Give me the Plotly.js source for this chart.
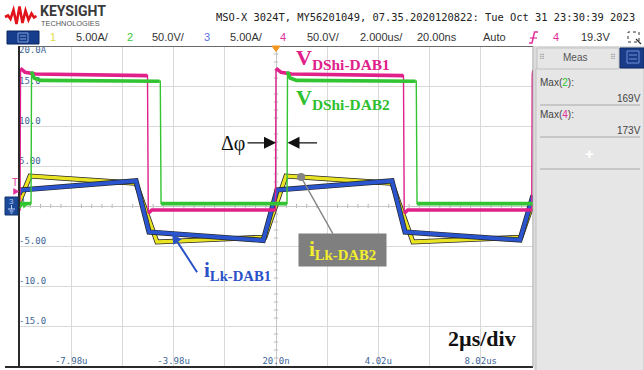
<!DOCTYPE html>
<html><head><meta charset="utf-8">
<script src="https://cdn.plot.ly/plotly-3.0.1.min.js"></script>
<style>html,body{margin:0;padding:0;background:#fff;overflow:hidden}#chart{width:644px;height:370px}</style>
</head><body><div id="chart"></div>
<script>
// ---------------- data (time in µs) ----------------
// CH4  V_DShi-DAB1 (V, 50 V/div)
const ch4Time = [-10.04, -10.0, -9.98, -9.8, -9.4, -5.02, -4.99, -4.85, -0.02, 0.0, 0.2, 0.6, 4.98, 5.01, 5.15, 9.99, 10.01, 10.04];
const ch4Volt = [-5, -5, 172, 167, 165, 163, -9, -5, -5, 172, 167, 165, 163, -9, -5, -5, 165, 170];
// CH2  V_DShi-DAB2 (V, 50 V/div)
const ch2Time = [-10.04, -9.57, -9.55, -9.45, -9.2, -4.55, -4.52, -4.49, 0.43, 0.45, 0.55, 0.8, 5.45, 5.48, 5.51, 10.04];
const ch2Volt = [3, 3, 168, 160, 157, 156, 156, 3, 3, 168, 160, 157, 156, 156, 3, 3];
// CH3  i_Lk-DAB1 (A, 5 A/div)
const ch3Time = [-10.04, -9.96, -5.47, -4.96, -0.5, 0.04, 4.53, 5.04, 9.53, 10.04];
const ch3Amp  = [1.5, 2.0, 3.15, -3.25, -4.3, 2.0, 3.15, -3.25, -4.25, 1.3];
// CH1  i_Lk-DAB2 (A, 5 A/div)
const ch1Time = [-10.04, -9.61, -5.47, -4.65, -0.43, 0.39, 4.53, 5.35, 9.57, 10.04];
const ch1Amp  = [0.4, 3.75, 2.85, -4.5, -3.9, 3.75, 2.85, -4.5, -3.9, 0.4];
// axis labels
const timeTickVals = [-8, -6, -4, -2, 0, 2, 4, 6, 8];
const timeTickText = ['-7.98u', '', '-3.98u', '', '20.0n', '', '4.02u', '', '8.02us'];
const ampTickVals = [20, 15, 10, 5, 0, -5, -10, -15];
const ampTickText = ['20.0A', '15.0', '10.0', '5.00', '0', '-5.00', '-10.0', '-15.0'];
// measurement panel
const measNames  = ['Max(<span style="color:#2ec82e">2</span>):', 'Max(<span style="color:#e0309a">4</span>):'];
const measValues = ['169V', '173V'];
// header
const headerLine = 'MSO-X 3024T, MY56201049, 07.35.2020120822: Tue Oct 31 23:30:39 2023';

// ---------------- helpers ----------------
const L = 19, R = 533, T = 46, B = 366;
const px = v => (v - L) / (R - L);
const py = v => (B - v) / (B - T);
function P(pts, close) {
  return pts.map((p, i) => (i ? 'L' : 'M') + px(p[0]).toFixed(5) + ',' + py(p[1]).toFixed(5)).join(' ') + (close ? ' Z' : '');
}
function rect(x0, y0, x1, y1, fill, lineColor, lw, dash) {
  return {type: 'rect', xref: 'paper', yref: 'paper', x0: px(x0), x1: px(x1), y0: py(y1), y1: py(y0),
    fillcolor: fill || 'rgba(0,0,0,0)', line: {color: lineColor || 'rgba(0,0,0,0)', width: lw || 0, dash: dash || 'solid'}, layer: 'above'};
}
function seg(x0, y0, x1, y1, color, w) {
  return {type: 'line', xref: 'paper', yref: 'paper', x0: px(x0), x1: px(x1), y0: py(y0), y1: py(y1), line: {color, width: w}, layer: 'above'};
}
function path(pts, close, fill, lineColor, w) {
  return {type: 'path', xref: 'paper', yref: 'paper', path: P(pts, close), fillcolor: fill || 'rgba(0,0,0,0)',
    line: {color: lineColor || 'rgba(0,0,0,0)', width: w || 0}, layer: 'above'};
}
function txt(x, y, text, size, color, opts) {
  return Object.assign({xref: 'paper', yref: 'paper', x: px(x), y: py(y), text, showarrow: false, xanchor: 'left', yanchor: 'middle',
    borderpad: 0, borderwidth: 0, font: {family: 'Liberation Sans, Arial, sans-serif', size, color}}, opts || {});
}
function plateaus(t, v, minDt) {
  const x = [], y = [];
  for (let i = 0; i < t.length - 1; i++) {
    if (t[i + 1] - t[i] >= minDt) {
      if (x.length && x[x.length - 1] === t[i]) { x.push(t[i + 1]); y.push(v[i + 1]); }
      else { if (x.length) { x.push(null); y.push(null); } x.push(t[i], t[i + 1]); y.push(v[i], v[i + 1]); }
    }
  }
  return {x, y};
}

// ---------------- traces ----------------
const pinkC = '#e0218a', greenC = '#33c433', yellowC = '#e9e324', blueC = '#2b55cf';
const p4 = plateaus(ch4Time, ch4Volt, 0.08), p2 = plateaus(ch2Time, ch2Volt, 0.08);
const base = {hoverinfo: 'skip', showlegend: false};
const xlabX = [], xlabT = [];
timeTickVals.forEach((v, i) => { if (timeTickText[i]) { xlabX.push(v); xlabT.push(timeTickText[i]); } });

const traces = [
  Object.assign({x: ampTickVals.map(() => -10.04), y: ampTickVals, mode: 'text', text: ampTickText,
    textposition: ampTickVals.map(v => v === 20 ? 'bottom right' : 'top right'), cliponaxis: false,
    textfont: {family: 'DejaVu Sans Mono, monospace', size: 9, color: '#3e6596'}}, base),
  Object.assign({x: xlabX, y: xlabX.map(() => -20), mode: 'text', text: xlabT, textposition: 'top center', cliponaxis: false,
    textfont: {family: 'DejaVu Sans Mono, monospace', size: 9, color: '#3e6596'}}, base),
  // CH4 pink
  Object.assign({x: ch4Time, y: ch4Volt, yaxis: 'y2', mode: 'lines', line: {color: pinkC, width: 1.4}}, base),
  Object.assign({x: p4.x, y: p4.y, yaxis: 'y2', mode: 'lines', line: {color: pinkC, width: 3.6}}, base),
  // CH2 green
  Object.assign({x: ch2Time, y: ch2Volt, yaxis: 'y2', mode: 'lines', line: {color: greenC, width: 1.4}}, base),
  Object.assign({x: p2.x, y: p2.y, yaxis: 'y2', mode: 'lines', line: {color: greenC, width: 3.6}}, base),
  // CH1 yellow
  Object.assign({x: ch1Time, y: ch1Amp, mode: 'lines', line: {color: '#262626', width: 5}}, base),
  Object.assign({x: ch1Time, y: ch1Amp, mode: 'lines', line: {color: yellowC, width: 3.4}}, base),
  // CH3 blue
  Object.assign({x: ch3Time, y: ch3Amp, mode: 'lines', line: {color: '#262626', width: 5.2}}, base),
  Object.assign({x: ch3Time, y: ch3Amp, mode: 'lines', line: {color: blueC, width: 3.8}}, base)
];

// ---------------- decorations ----------------
const shapes = [];
// minor ticks on the centre cross (5 per division)
for (let k = -25; k <= 25; k++) {
  if (k % 5) shapes.push({type: 'line', xref: 'x', yref: 'y', x0: k * 0.4, x1: k * 0.4, y0: -0.27, y1: 0.27, line: {color: '#b8b8b8', width: 1}, layer: 'below'});
}
for (let k = -20; k <= 20; k++) {
  if (k % 5) shapes.push({type: 'line', xref: 'x', yref: 'y', x0: -0.085, x1: 0.085, y0: k, y1: k, line: {color: '#b8b8b8', width: 1}, layer: 'below'});
}
shapes.push(
  // plot borders
  seg(19, 46.5, 533, 46.5, '#6a6a6a', 1.2),
  seg(19, 46, 19, 367, '#2a2a2a', 2),
  seg(5, 367, 533, 367, '#2a2a2a', 2),
  seg(533, 46, 533, 367, '#9a9a9a', 1),
  // right measurement panel
  rect(534, 46, 644, 370, '#dcdcdc'),
  rect(536, 68, 644, 372, '#e6e6e6', '#c2c2c2', 1),
  rect(537, 48, 619, 69, '#e6e6e6', '#c2c2c2', 1),
  rect(620, 48, 644, 68, '#1a3c88', '#0e2a66', 1),
  rect(627, 51, 639, 63, 'rgba(0,0,0,0)', '#6f8fd6', 1),
  seg(629, 55, 637, 55, '#6f8fd6', 1), seg(629, 59, 637, 59, '#6f8fd6', 1),
  seg(540, 105, 640, 105, '#a8a8a8', 1),
  seg(540, 137, 640, 137, '#a8a8a8', 1),
  seg(540, 169, 640, 169, '#a8a8a8', 1),
  // header widgets
  rect(7, 31, 39, 44, '#163c8c', '#0b2560', 1),
  rect(18, 33, 28, 42, 'rgba(0,0,0,0)', '#7f9fd8', 1),
  seg(20, 36, 26, 36, '#7f9fd8', 1), seg(20, 39, 26, 39, '#7f9fd8', 1),
  path([[529, 43], [532, 43], [534.5, 32], [538, 32]], false, null, '#e0309a', 1.5),
  seg(530, 38, 537, 38, '#e0309a', 1.2),
  rect(628, 32, 639, 42, 'rgba(0,0,0,0)', '#333', 1, 'dot'),
  path([[636, 39], [641, 44]], false, null, '#333', 1.2),
  // Keysight logo
  path([[5, 17], [8, 15.5], [10.5, 19], [13.5, 10], [16.5, 24], [19.5, 6.5], [22.5, 23], [25.5, 10.5], [28.5, 20], [31.5, 13.5], [34, 17.5], [36.5, 16]], false, null, '#e1141c', 2.6),
  // channel markers
  path([[272, 46], [280, 46], [276, 51.5]], true, '#f0961e', '#f0961e', 1),
  path([[13.5, 188.5], [19, 191.5], [13.5, 194.5]], true, '#e0309a', '#e0309a', 0.5),
  rect(5, 197, 18, 215, '#1d4a98', '#12356f', 1),
  seg(11.5, 205, 11.5, 209, '#c0d0ff', 1),
  seg(8, 209, 15, 209, '#c0d0ff', 1), seg(9.5, 211, 13.5, 211, '#c0d0ff', 1), seg(10.5, 213, 12.5, 213, '#c0d0ff', 1),
  path([[20, 208], [23, 203], [24, 207], [27, 204]], false, null, '#2ec82e', 1.5)
);

const hdrY = 37;
const annotations = [
  // header
  txt(39.5, 11.5, '<b>KEYSIGHT</b>', 14, '#3a3a3a', {font: {family: 'Liberation Sans Narrow, Roboto, Arial, sans-serif', size: 14, color: '#3a3a3a'}}),
  txt(40.5, 23, 'TECHNOLOGIES', 7.4, '#555'),
  txt(216, 17, headerLine, 10.4, '#222', {font: {family: 'DejaVu Sans Mono, monospace', size: 10.4, color: '#222'}}),
  txt(53, hdrY, '1', 11, '#e0dc3c', {xanchor: 'center'}),
  txt(92, hdrY, '5.00A/', 11, '#333', {xanchor: 'center'}),
  txt(130, hdrY, '2', 11, '#3cc83c', {xanchor: 'center'}),
  txt(168, hdrY, '50.0V/', 11, '#333', {xanchor: 'center'}),
  txt(207, hdrY, '3', 11, '#5a70e0', {xanchor: 'center'}),
  txt(246, hdrY, '5.00A/', 11, '#333', {xanchor: 'center'}),
  txt(283, hdrY, '4', 11, '#e0309a', {xanchor: 'center'}),
  txt(323, hdrY, '50.0V/', 11, '#333', {xanchor: 'center'}),
  txt(381, hdrY, '2.000us/', 11, '#333', {xanchor: 'center'}),
  txt(437, hdrY, '20.00ns', 11, '#333', {xanchor: 'center'}),
  txt(494, hdrY, 'Auto', 11, '#333', {xanchor: 'center'}),
  txt(556, hdrY, '4', 11, '#e0309a', {xanchor: 'center'}),
  txt(595, hdrY, '19.3V', 11, '#333', {xanchor: 'center'}),
  // measurement panel
  txt(575, 58, 'Meas', 10, '#555', {xanchor: 'center'}),
  txt(542, 57, '⠿', 8, '#999', {xanchor: 'center'}),
  txt(613, 57, '⠿', 8, '#999', {xanchor: 'center'}),
  txt(540, 82, measNames[0], 10, '#444'),
  txt(641, 98, measValues[0], 10, '#444', {xanchor: 'right'}),
  txt(540, 114, measNames[1], 10, '#444'),
  txt(641, 130, measValues[1], 10, '#444', {xanchor: 'right'}),
  txt(589, 153, '<b>+</b>', 15, '#ffffff', {xanchor: 'center'}),
  // channel markers
  txt(15, 182, 'T', 10, '#e0309a', {xanchor: 'center'}),
  txt(11.5, 201.5, '3', 8, '#b8ccff', {xanchor: 'center'}),
  // chart annotations
  txt(296, 59, '<b>V<sub>DShi-DAB1</sub></b>', 22, '#e0218a', {font: {family: 'Liberation Serif, Times New Roman, serif', size: 22, color: '#e0218a'}}),
  txt(296, 99, '<b>V<sub>DShi-DAB2</sub></b>', 22, '#2fc02f', {font: {family: 'Liberation Serif, Times New Roman, serif', size: 22, color: '#2fc02f'}}),
  txt(233, 143, 'Δφ', 20, '#111', {xanchor: 'center', font: {family: 'Liberation Serif, Times New Roman, serif', size: 20, color: '#111'}}),
  txt(204, 271, '<b>i<sub>Lk-DAB1</sub></b>', 21, '#2a52c8', {font: {family: 'Liberation Serif, Times New Roman, serif', size: 21, color: '#2a52c8'}}),
  txt(448, 338, '<b>2µs/div</b>', 22, '#111', {font: {family: 'Liberation Serif, Times New Roman, serif', size: 22, color: '#111'}}),
  // Δφ arrows (tips at the two rising edges)
  {x: ch4Time[9], y: 7.9, xref: 'x', yref: 'y', text: '', showarrow: true, ax: -30, ay: 0, arrowhead: 2, arrowsize: 2, arrowwidth: 1.2, arrowcolor: '#111', standoff: 0},
  {x: ch2Time[9], y: 7.9, xref: 'x', yref: 'y', text: '', showarrow: true, ax: 31, ay: 0, arrowhead: 2, arrowsize: 2, arrowwidth: 1.2, arrowcolor: '#111', standoff: 0},
  // iLk-DAB2 callout
  {x: 0.98, y: 3.62, xref: 'x', yref: 'y', text: '<b>i<sub>Lk-DAB2</sub></b>', showarrow: true, ax: 41, ay: 73,
    arrowhead: 6, arrowsize: 1.45, arrowwidth: 1.4, arrowcolor: '#858585', standoff: 0,
    bgcolor: '#7f7f7f', width: 87, height: 32, borderpad: 0,
    font: {family: 'Liberation Serif, Times New Roman, serif', size: 21, color: '#f3ee2e'}},
  // iLk-DAB1 pointer
  {x: -4.06, y: -3.46, xref: 'x', yref: 'y', text: '', showarrow: true, ax: 26, ay: 40, arrowhead: 2, arrowsize: 1, arrowwidth: 2, arrowcolor: '#2a52c8', standoff: 0}
];

const layout = {
  width: 644, height: 370,
  margin: {l: 19, r: 111, t: 46, b: 4, pad: 0},
  paper_bgcolor: '#ffffff', plot_bgcolor: '#ffffff',
  showlegend: false,
  xaxis: {range: [-10.04, 10.04], tickmode: 'array', tickvals: timeTickVals, showticklabels: false, ticks: '',
    showgrid: true, gridcolor: '#d9d9d9', gridwidth: 1, zeroline: true, zerolinecolor: '#c6c6c6', zerolinewidth: 1, showline: false},
  yaxis: {range: [-20, 20], tickmode: 'array', tickvals: ampTickVals, showticklabels: false, ticks: '',
    showgrid: true, gridcolor: '#d9d9d9', gridwidth: 1, zeroline: true, zerolinecolor: '#c6c6c6', zerolinewidth: 1, showline: false},
  yaxis2: {range: [-200, 200], overlaying: 'y', visible: false},
  shapes, annotations
};
Plotly.newPlot('chart', traces, layout, {staticPlot: true, displayModeBar: false});
</script>
</body></html>
